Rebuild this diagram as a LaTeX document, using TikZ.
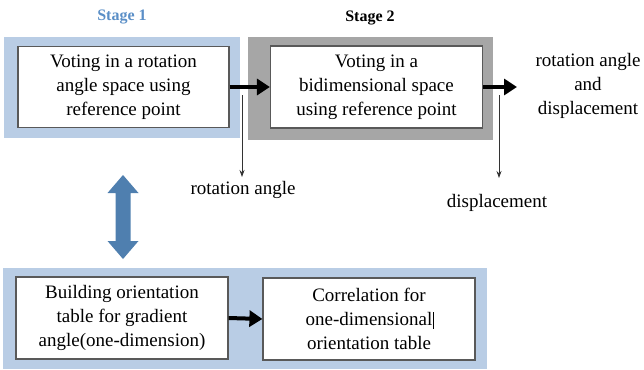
\documentclass[tikz,border=0pt]{standalone}
\usepackage{fontspec}
\setmainfont{Liberation Serif}
\usetikzlibrary{arrows.meta}
\definecolor{panelblue}{HTML}{B9CDE5}
\definecolor{panelgray}{HTML}{A6A6A6}
\definecolor{stageblue}{HTML}{5B8FC7}
\definecolor{dblarrow}{HTML}{4F7FAF}
\tikzset{
  panel/.style={inner sep=0pt, outer sep=0pt},
  procbox/.style={draw=black!65, line width=1.2pt, fill=white, inner sep=0pt,
    align=center, font=\fontsize{19}{24}\selectfont},
  stagelabel/.style={font=\fontsize{16}{19}\selectfont\bfseries},
  outlabel/.style={align=center, font=\fontsize{19}{24}\selectfont},
  flow/.style={line width=4pt, -{Triangle[length=13pt,width=16pt]}},
  tap/.style={line width=0.8pt, draw=black!80, -{Stealth[length=7pt,width=5pt]}}
}
\begin{document}
\begin{tikzpicture}[x=1pt,y=-1pt]
\useasboundingbox (0,0) rectangle (644,369);

% background panels
\fill[panelblue] (4,37) rectangle (240,138);
\fill[panelgray] (248,37) rectangle (493,140);
\fill[panelblue] (3,268) rectangle (487,369);

% stage titles
\node[stagelabel, text=stageblue] (st1) at (122,17) {Stage 1};
\node[stagelabel] (st2) at (370,18) {Stage 2};

% process boxes
\node[procbox, minimum width=211pt, minimum height=81pt] (b1) at (123.5,87)
  {Voting in a rotation\\angle space using\\reference point};
\node[procbox, minimum width=212pt, minimum height=82pt] (b2) at (376.5,87)
  {Voting in a\\bidimensional space\\using reference point};
\node[procbox, minimum width=212pt, minimum height=82pt] (b3) at (122,318)
  {Building orientation\\table for gradient\\angle(one-dimension)};
\node[procbox, minimum width=212pt, minimum height=82pt] (b4) at (369,319)
  {Correlation for\\one-dimensional\rlap{\kern1pt\rule[-3pt]{0.8pt}{17pt}}\\orientation table};

% result label
\node[outlabel] (res) at (588,86) {rotation angle\\and\\displacement};
\node[outlabel] (rot) at (243,190) {rotation angle};
\node[outlabel] (disp) at (497,203) {displacement};

% main flow
\draw[flow] (b1.east) -- (b2.west);
\draw[flow] (b2.east) -- (517,87) coordinate (resin);
\draw[flow] (b3.east) -- (b4.west);

% side outputs
\coordinate (t1) at (242,95);
\coordinate (t2) at (499,95);
\draw[tap] (t1) -- (242,177);
\draw[tap] (t2) -- (499,178);

% link between the stage-1 vote and the orientation table
\fill[dblarrow] (123,175) -- (138.5,193) -- (130.5,193) -- (130.5,241)
  -- (138.5,241) -- (123,259) -- (107.5,241) -- (115.5,241) -- (115.5,193)
  -- (107.5,193) -- cycle;
\end{tikzpicture}
\end{document}
